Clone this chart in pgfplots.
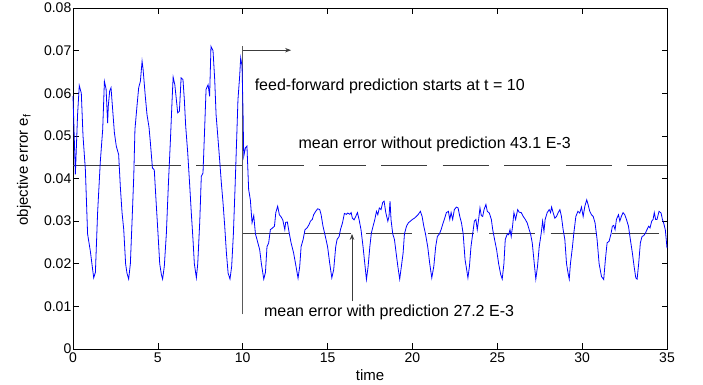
\documentclass[border=0pt]{standalone}
\usepackage{pgfplots}
\pgfplotsset{compat=1.18}
\usepackage{fontspec}
\setmainfont{Liberation Sans}
\usetikzlibrary{arrows.meta}
\definecolor{curveblue}{RGB}{0,0,255}
\definecolor{refgray}{RGB}{60,60,60}
\definecolor{vgray}{RGB}{90,90,90}
\begin{document}
\begin{tikzpicture}
\useasboundingbox (-73bp,-36bp) rectangle (630bp,349bp);
\begin{axis}[
  at={(0,0)}, anchor=south west,
  scale only axis, width=594bp, height=341bp,
  xmin=0, xmax=35, ymin=0, ymax=0.08,
  axis line style={line width=0.8bp},
  tick align=inside, major tick length=5.5bp,
  tick style={line width=0.6bp, black},
  xtick={0,5,10,15,20,25,30,35},
  xticklabels={0,5,10,15,20,25,30,35},
  ytick={0,0.01,0.02,0.03,0.04,0.05,0.06,0.07,0.08},
  yticklabels={0,0.01,0.02,0.03,0.04,0.05,0.06,0.07,0.08},
  scaled y ticks=false,
  ticklabel style={font=\fontsize{14bp}{16bp}\selectfont},
  yticklabel style={inner sep=1.5bp},
  xticklabel style={inner sep=2bp, yshift=-2bp},
  xlabel={time},
  ylabel={objective error e\textsubscript{f}},
  label style={font=\fontsize{15bp}{18bp}\selectfont},
  xlabel style={at={(axis description cs:0.5,-0.0762)}, anchor=center},
  ylabel style={at={(axis description cs:-0.0825,0.525)}, anchor=center},
  clip=false,
]
% mean error without prediction
\addplot[refgray, line width=0.8bp, dash pattern=on 46.2bp off 15.4bp] coordinates {(0,0.0431) (35,0.0431)};
% mean error with prediction
\addplot[refgray, line width=0.8bp, dash pattern=on 46.2bp off 15.4bp] coordinates {(10,0.0272) (35,0.0272)};
% start of prediction
\addplot[vgray, line width=0.9bp] coordinates {(10,0.0081) (10,0.0711)};
\addplot[refgray, line width=0.8bp, -{Stealth[length=6bp,width=4.5bp]}] coordinates {(10,0.0701) (12.85,0.0701)};
\addplot[refgray, line width=0.8bp, -{Stealth[length=6bp,width=4.5bp]}] coordinates {(16.44,0.0112) (16.44,0.0270)};
% objective error
\addplot[curveblue, line width=0.8bp] coordinates {
(0,0.0593) (0.14,0.0410) (0.27,0.0550) (0.37,0.0618) (0.49,0.0600) (0.59,0.0500)
(0.73,0.0420) (0.86,0.0270) (1.02,0.0230) (1.22,0.0167) (1.32,0.0180) (1.45,0.0320)
(1.61,0.0440) (1.75,0.0515) (1.85,0.0628) (1.95,0.0610) (2.04,0.0530) (2.08,0.0570)
(2.16,0.0605) (2.24,0.0613) (2.34,0.0560) (2.44,0.0507) (2.55,0.0476) (2.69,0.0456)
(2.79,0.0380) (2.89,0.0320) (2.99,0.0280) (3.10,0.0200) (3.18,0.0178) (3.28,0.0164)
(3.38,0.0200) (3.48,0.0300) (3.58,0.0405) (3.65,0.0515) (3.77,0.0570) (3.87,0.0613)
(3.97,0.0628) (4.07,0.0675) (4.13,0.0656) (4.26,0.0593) (4.36,0.0550) (4.48,0.0520)
(4.56,0.0484) (4.68,0.0425) (4.79,0.0420) (4.89,0.0350) (5.01,0.0270) (5.11,0.0200)
(5.21,0.0174) (5.28,0.0164) (5.38,0.0194) (5.50,0.0270) (5.62,0.0386) (5.74,0.0490)
(5.84,0.0585) (5.90,0.0638) (6.00,0.0620) (6.09,0.0585) (6.17,0.0554) (6.27,0.0558)
(6.37,0.0636) (6.48,0.0632) (6.56,0.0585) (6.64,0.0523) (6.76,0.0460) (6.88,0.0382)
(6.97,0.0320) (7.07,0.0257) (7.15,0.0200) (7.27,0.0167) (7.35,0.0200) (7.47,0.0300)
(7.56,0.0405) (7.66,0.0413) (7.76,0.0520) (7.84,0.0609) (7.96,0.0620) (8.05,0.0593)
(8.13,0.0710) (8.25,0.0700) (8.35,0.0632) (8.43,0.0550) (8.53,0.0500) (8.64,0.0444)
(8.74,0.0390) (8.84,0.0343) (8.94,0.0288) (9.04,0.0225) (9.14,0.0178) (9.25,0.0164)
(9.35,0.0194) (9.45,0.0270) (9.55,0.0380) (9.63,0.0476) (9.72,0.0585) (9.82,0.0640)
(9.88,0.0683) (9.96,0.0664) (10.02,0.0554) (10.06,0.0452) (10.16,0.0472) (10.25,0.0476)
(10.35,0.0374) (10.45,0.0350) (10.55,0.0296) (10.65,0.0313) (10.75,0.0270) (10.84,0.0257)
(11.00,0.0233) (11.10,0.0200) (11.24,0.0164) (11.34,0.0180) (11.43,0.0240) (11.53,0.0249)
(11.63,0.0280) (11.73,0.0283) (11.87,0.0288) (11.95,0.0320) (12.06,0.0335) (12.16,0.0315)
(12.26,0.0310) (12.36,0.0303) (12.48,0.0280) (12.53,0.0297) (12.63,0.0298) (12.75,0.0270)
(12.85,0.0249) (13.00,0.0225) (13.14,0.0194) (13.26,0.0166) (13.36,0.0194) (13.44,0.0240)
(13.56,0.0257) (13.67,0.0280) (13.79,0.0284) (13.91,0.0292) (13.99,0.0300) (14.10,0.0304)
(14.18,0.0315) (14.30,0.0323) (14.42,0.0329) (14.54,0.0327) (14.62,0.0315) (14.73,0.0288)
(14.87,0.0264) (15.00,0.0240) (15.13,0.0200) (15.25,0.0167) (15.36,0.0186) (15.48,0.0240)
(15.56,0.0257) (15.68,0.0264) (15.76,0.0280) (15.88,0.0296) (15.99,0.0318) (16.11,0.0316)
(16.19,0.0319) (16.31,0.0316) (16.39,0.0320) (16.46,0.0307) (16.56,0.0303) (16.66,0.0311)
(16.76,0.0320) (16.86,0.0303) (16.97,0.0280) (17.09,0.0240) (17.21,0.0194) (17.29,0.0163)
(17.39,0.0194) (17.49,0.0240) (17.58,0.0272) (17.68,0.0288) (17.78,0.0303) (17.88,0.0323)
(17.96,0.0315) (18.05,0.0331) (18.15,0.0327) (18.25,0.0344) (18.33,0.0347) (18.43,0.0320)
(18.55,0.0300) (18.62,0.0311) (18.68,0.0347) (18.74,0.0303) (18.84,0.0270) (18.94,0.0257)
(19.04,0.0225) (19.14,0.0194) (19.25,0.0164) (19.35,0.0194) (19.45,0.0225) (19.53,0.0270)
(19.65,0.0288) (19.76,0.0296) (19.88,0.0300) (20.00,0.0304) (20.12,0.0307) (20.23,0.0311)
(20.33,0.0315) (20.47,0.0323) (20.57,0.0311) (20.67,0.0288) (20.77,0.0270) (20.90,0.0240)
(21.02,0.0200) (21.14,0.0167) (21.26,0.0194) (21.37,0.0240) (21.47,0.0264) (21.59,0.0270)
(21.69,0.0280) (21.81,0.0296) (21.88,0.0304) (22.00,0.0320) (22.12,0.0323) (22.20,0.0304)
(22.28,0.0320) (22.37,0.0304) (22.47,0.0327) (22.59,0.0333) (22.69,0.0331) (22.79,0.0311)
(22.89,0.0296) (22.99,0.0270) (23.10,0.0210) (23.18,0.0190) (23.27,0.0167) (23.36,0.0194)
(23.45,0.0240) (23.55,0.0270) (23.65,0.0300) (23.74,0.0304) (23.82,0.0280) (23.90,0.0304)
(23.98,0.0331) (24.06,0.0313) (24.14,0.0311) (24.22,0.0327) (24.33,0.0339) (24.41,0.0323)
(24.53,0.0319) (24.65,0.0304) (24.73,0.0280) (24.84,0.0257) (24.96,0.0233) (25.08,0.0200)
(25.20,0.0175) (25.29,0.0164) (25.39,0.0200) (25.47,0.0257) (25.59,0.0270) (25.67,0.0268)
(25.75,0.0280) (25.82,0.0264) (25.90,0.0288) (25.98,0.0320) (26.08,0.0304) (26.20,0.0327)
(26.29,0.0321) (26.41,0.0320) (26.53,0.0311) (26.65,0.0304) (26.76,0.0296) (26.88,0.0280)
(26.96,0.0270) (27.06,0.0249) (27.18,0.0200) (27.27,0.0164) (27.37,0.0194) (27.47,0.0240)
(27.59,0.0272) (27.67,0.0300) (27.75,0.0276) (27.82,0.0304) (27.94,0.0320) (28.06,0.0327)
(28.14,0.0320) (28.20,0.0333) (28.29,0.0320) (28.39,0.0307) (28.49,0.0311) (28.59,0.0320)
(28.69,0.0327) (28.78,0.0311) (28.88,0.0280) (28.98,0.0257) (29.08,0.0200) (29.18,0.0176)
(29.24,0.0164) (29.31,0.0200) (29.43,0.0240) (29.51,0.0272) (29.63,0.0311) (29.75,0.0323)
(29.86,0.0319) (29.96,0.0333) (30.06,0.0311) (30.16,0.0335) (30.27,0.0350) (30.35,0.0339)
(30.45,0.0323) (30.55,0.0315) (30.65,0.0311) (30.76,0.0296) (30.88,0.0257) (31.00,0.0200)
(31.14,0.0170) (31.27,0.0163) (31.37,0.0210) (31.47,0.0249) (31.59,0.0253) (31.70,0.0270)
(31.78,0.0288) (31.86,0.0290) (31.94,0.0280) (32.02,0.0304) (32.14,0.0315) (32.22,0.0300)
(32.31,0.0311) (32.41,0.0320) (32.51,0.0315) (32.61,0.0304) (32.73,0.0288) (32.84,0.0257)
(32.96,0.0225) (33.06,0.0194) (33.16,0.0167) (33.24,0.0164) (33.33,0.0200) (33.43,0.0249)
(33.53,0.0264) (33.63,0.0266) (33.73,0.0272) (33.82,0.0280) (33.92,0.0288) (34.00,0.0284)
(34.10,0.0300) (34.18,0.0304) (34.25,0.0320) (34.33,0.0304) (34.41,0.0304) (34.53,0.0323)
(34.65,0.0319) (34.73,0.0304) (34.80,0.0296) (34.90,0.0280) (35.00,0.0237)
};
\node[anchor=west, inner sep=0pt, font=\fontsize{16bp}{19bp}\selectfont] at (axis cs:10.70,0.0615) {feed-forward prediction starts at t = 10};
\node[anchor=west, inner sep=0pt, font=\fontsize{16bp}{19bp}\selectfont] at (axis cs:13.28,0.0479) {mean error without prediction 43.1 E-3};
\node[anchor=west, inner sep=0pt, font=\fontsize{16bp}{19bp}\selectfont] at (axis cs:11.25,0.0085) {mean error with prediction 27.2 E-3};
\end{axis}
\end{tikzpicture}
\end{document}
